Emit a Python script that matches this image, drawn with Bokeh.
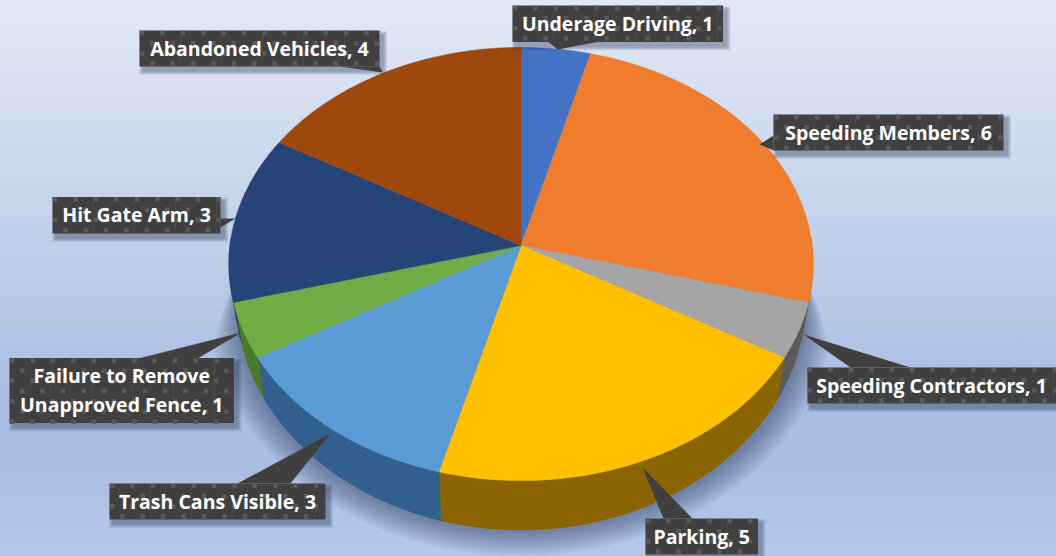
import numpy as np
from bokeh.plotting import figure
from bokeh.embed import file_html
from bokeh.resources import INLINE
from bokeh.core.properties import value

# --- data ---
categories = ["Underage Driving", "Speeding Members", "Speeding Contractors", "Parking",
              "Trash Cans Visible", "Failure to Remove\nUnapproved Fence", "Hit Gate Arm", "Abandoned Vehicles"]
counts = [1, 6, 1, 5, 3, 1, 3, 4]
top_colors = ["#4472C4", "#F07D2E", "#A5A5A5", "#FFC000", "#5B9BD5", "#70AD47", "#264478", "#9E480E"]
wall_colors = ["#2B4A80", "#9A5218", "#5A5A5A", "#8A6400", "#33618F", "#4A7A2C", "#18305A", "#6A3008"]

# --- layout of the labels: left, top, right, bottom, tip x, tip y, pointer base ---
boxes = [
    (512, 5, 722.5, 41.5, 557, 49, (548, 41.5), (597, 41.5)),
    (773, 114, 1003, 150, 759, 144, (773, 135), (773, 150)),
    (807, 367, 1060, 403, 803, 334, (850, 367), (910, 367)),
    (645, 518, 757.5, 554, 642, 467, (663, 518), (692, 518)),
    (109, 483, 325, 519, 330, 433, (237, 483), (290, 483)),
    (9, 357.5, 233.5, 422.5, 241, 332, (140, 357.5), (198, 357.5)),
    (52, 196.5, 220, 233, 235, 218, (220, 218), (220, 227)),
    (139, 30, 379, 66, 382, 72, (340, 66), (379, 66)),
]

W, H = 1056, 556
p = figure(width=W, height=H, x_range=(0, W), y_range=(H, 0), toolbar_location=None,
           output_backend="svg", min_border=0, outline_line_color=None,
           background_fill_alpha=0, border_fill_alpha=0)
p.axis.visible = False
p.grid.visible = False
p.styles = {"position": "fixed", "left": "0", "top": "0",
            "background": "linear-gradient(180deg,#e2e9f5 0%,#cfdbef 25%,#b9cae7 52%,#a9bde3 72%,#abbfe4 85%,#b5c8ea 100%)"}

cx, cy = 520.5, 245
K = 0.0855


def ring(theta_deg, B, A, yc):
    t = np.radians(theta_deg)
    d = np.cos(t)
    return cx + B * np.sin(t) / (1 + K * d), yc - A * d / (1 + K * d)


def top(theta):
    return ring(theta, 291, 215, cy)


def bottom(theta):
    return ring(theta, 284, 230, 278)


# soft pie shadow, tapering to nothing where it meets the sides of the pie
for k in range(9):
    th = np.linspace(88, 272, 160)
    taper = np.clip((90 - np.abs(th - 180)) / 16, 0, 1)
    e = 28 - 3 * k
    x, y = ring(th, 284 + e * taper, 230 + 0.85 * e * taper, 278)
    p.patch(list(x), list(y), fill_color="#27344f", fill_alpha=0.06, line_color=None)

total = sum(counts)
edges = np.concatenate([[0], np.cumsum(counts)]) * 360.0 / total

# side walls of the near half
for i in range(len(counts)):
    a0, a1 = max(edges[i], 88), min(edges[i + 1], 272)
    if a1 <= a0:
        continue
    th = np.linspace(a0, a1, 60)
    xt, yt = top(th)
    xb, yb = bottom(th)
    p.patch(list(xt) + list(xb[::-1]), list(yt) + list(yb[::-1]),
            fill_color=wall_colors[i], line_color=wall_colors[i], line_width=0.5)

# top faces
for i in range(len(counts)):
    th = np.linspace(edges[i], edges[i + 1], 80)
    x, y = top(th)
    p.patch([cx] + list(x), [cy] + list(y), fill_color=top_colors[i],
            line_color=top_colors[i], line_width=0.5)

# label callouts
for b in boxes:
    l, t, r, bt, tx, ty, b0, b1 = b
    for k in range(6):
        g = 3.5 - k * 0.7
        p.quad(left=l + 3 - g, right=r + 4 + g, top=t + 4 - g, bottom=bt + 5 + g,
               fill_color="#1f2a40", fill_alpha=0.07, line_color=None)
    p.patch([tx, b0[0], b1[0]], [ty, b0[1], b1[1]], fill_color="#404040", line_color=None)
    p.quad(left=l, right=r, top=t, bottom=bt, fill_color="#404040", line_color=None)

    # woven texture of the callout
    dx, dy = [], []
    for row, yy in enumerate(np.arange(t + 2.5, bt, 10.2)):
        for xx in np.arange(l + 2.6 + (10.2 if row % 2 else 0), r - 1, 20.4):
            dx.append(xx)
            dy.append(yy)
    p.rect(dx, dy, width=4.5, height=4.5, fill_color="#595959", line_color=None)
    vx = list(np.arange(l + 41, r - 1, 41))
    p.segment(vx, [t] * len(vx), vx, [bt] * len(vx), line_color="#4f4f4f", line_width=0.6)

# label text
lx = [(b[0] + b[2]) / 2 for b in boxes]
ly = [(b[1] + b[3]) / 2 - 0.5 for b in boxes]
lx[2] = 931
texts = [f"{c}, {n}" for c, n in zip(categories, counts)]
p.text(lx, ly, text=texts, text_color="#ffffff", text_font=value("Open Sans"), text_font_style="bold",
       text_font_size="19.5px", text_align="center", text_baseline="middle", text_line_height=1.09)

open("out.html", "w").write(file_html(p, INLINE))
